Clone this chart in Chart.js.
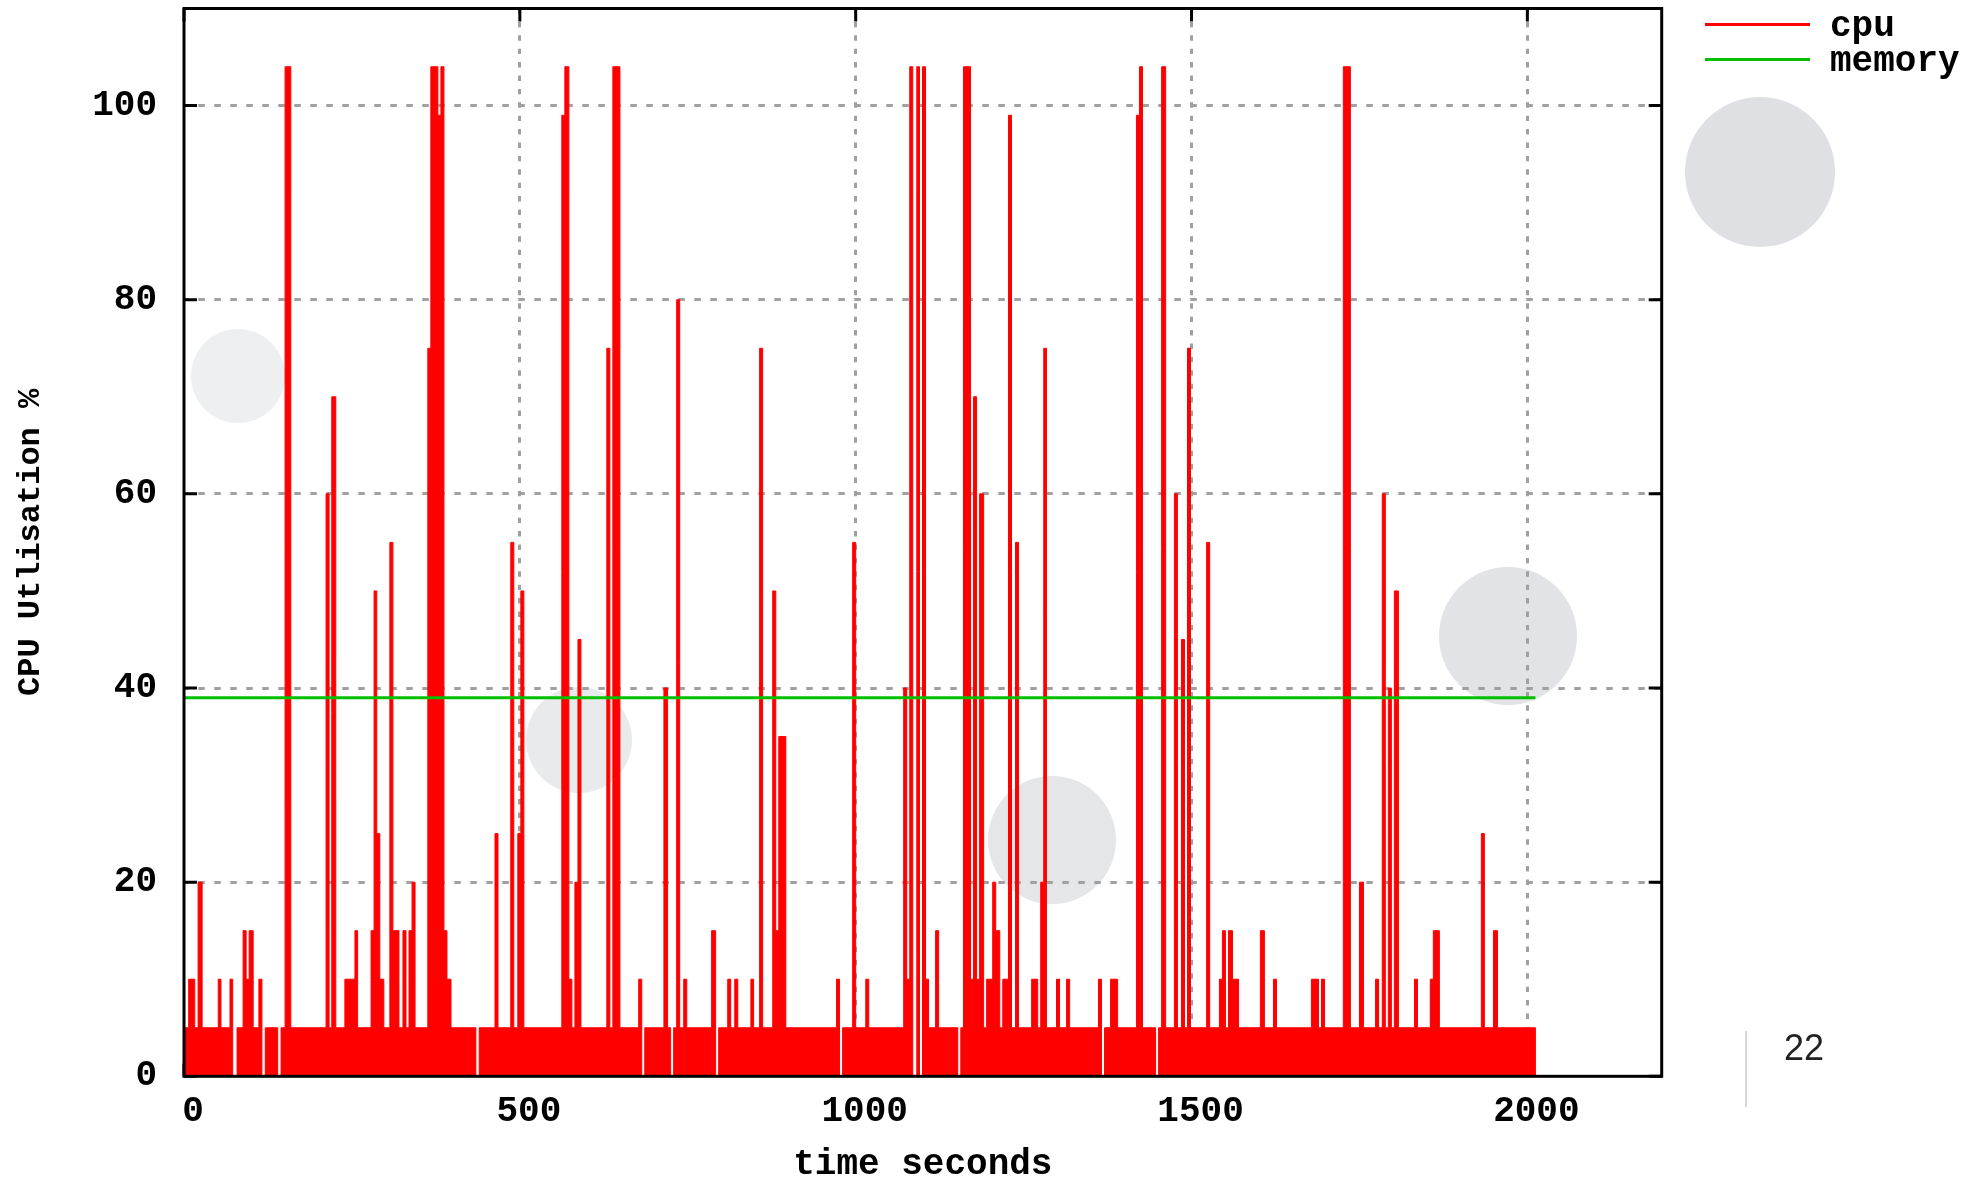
<!DOCTYPE html>
<html>
<head>
<meta charset="utf-8">
<title>CPU Utlisation</title>
<script src="https://cdn.jsdelivr.net/npm/chart.js@4.4.1/dist/chart.umd.min.js"></script>
<style>
  html, body { margin: 0; padding: 0; background: #fff; }
  #wrap { position: relative; width: 1978px; height: 1178px; overflow: hidden; }
  .blob { position: absolute; border-radius: 50%; filter: blur(0.6px); }
  #chart { position: absolute; left: 0; top: 0; z-index: 1; }
  #pageNo { position: absolute; left: 1784px; top: 1030px; font: 36px 'Liberation Sans', Arial, sans-serif; line-height: 36px; color: #222; z-index: 2; }
  #pageRule { position: absolute; left: 1745px; top: 1031px; width: 2px; height: 76px; background: #d3d7dc; z-index: 2; }
</style>
</head>
<body>
<div id="wrap">
  <div class="blob" style="left:191px;top:329px;width:94px;height:94px;background:#eeeff0"></div>
  <div class="blob" style="left:526px;top:687px;width:106px;height:106px;background:#e9eaec"></div>
  <div class="blob" style="left:988px;top:776px;width:128px;height:128px;background:#e5e6e8"></div>
  <div class="blob" style="left:1439px;top:567px;width:138px;height:138px;background:#e2e3e6"></div>
  <div class="blob" style="left:1685px;top:97px;width:150px;height:150px;background:#dfe0e3"></div>
  <canvas id="chart" width="1978" height="1178"></canvas>
  <div id="pageRule"></div>
  <div id="pageNo">22</div>
</div>
<script>
// tick values
const xTicks = [0, 500, 1000, 1500, 2000];
const yTicks = [0, 20, 40, 60, 80, 100];

// cpu: time (s) where each step starts, and the value it holds until the next one
const cpuTime = [
  0, 7, 16, 21, 27, 51, 55, 68.5, 72.5, 79,
  88, 92.5, 97, 103, 111.5, 116, 121, 139.5, 144.5, 150.5,
  159, 211.5, 216, 220, 226, 239.5, 254.5, 258.5, 278.5, 283,
  287, 291.5, 297.5, 306.5, 311, 320, 326, 330.5, 335, 339.5,
  344, 363, 367.5, 378, 382.5, 387, 391.5, 397.5, 434.5, 439.5,
  463, 467.5, 486.5, 491, 497, 501.5, 506, 562.5, 567, 573,
  577.5, 582, 586.5, 591, 629.5, 634, 638.5, 649, 677, 681.5,
  686, 714.5, 720, 724.5, 729, 733.5, 738, 744, 748.5, 785.5,
  791.5, 796, 809.5, 814, 820, 824.5, 844, 848, 857, 861.5,
  876.5, 881, 885.5, 896, 971.5, 976, 980.5, 995.5, 1000, 1015,
  1019.5, 1071.5, 1076, 1080.5, 1085, 1091, 1095, 1099.5, 1104, 1108.5,
  1119, 1123.5, 1152, 1156.5, 1160.5, 1171, 1175.5, 1180, 1184.5, 1190.5,
  1195, 1204, 1208.5, 1214.5, 1219, 1227.5, 1232, 1238, 1242.5, 1262,
  1271, 1275.5, 1280, 1284, 1299, 1303.5, 1314, 1318.5, 1361.5, 1366,
  1370.5, 1379.5, 1390, 1418, 1422.5, 1427, 1446.5, 1451, 1455.5, 1461.5,
  1474.5, 1479, 1485, 1489.5, 1494, 1498.5, 1522.5, 1527, 1541.5, 1546,
  1550.5, 1555, 1561, 1570, 1602.5, 1608.5, 1622, 1626.5, 1678.5, 1689,
  1693.5, 1698, 1726, 1736.5, 1750, 1756, 1774, 1778.5, 1784, 1788.5,
  1793, 1797.5, 1802, 1808, 1832, 1836.5, 1855.5, 1860, 1869, 1931.5,
  1936, 1949.5, 1955.5, 2012
];
const cpuValue = [
  5, 10, 5, 20, 5, 10, 5, 10, 0, 5,
  15, 10, 15, 5, 10, 0, 5, 0, 5, 104,
  5, 60, 5, 70, 5, 10, 15, 5, 15, 50,
  25, 10, 5, 55, 15, 5, 15, 5, 15, 20,
  5, 75, 104, 99, 104, 15, 10, 5, 0, 5,
  25, 5, 55, 5, 25, 50, 5, 99, 104, 10,
  5, 20, 45, 5, 75, 5, 104, 5, 10, 0,
  5, 40, 5, 0, 5, 80, 5, 10, 5, 15,
  0, 5, 10, 5, 10, 5, 10, 5, 75, 5,
  50, 15, 35, 5, 10, 0, 5, 55, 5, 10,
  5, 40, 10, 104, 0, 104, 0, 104, 10, 5,
  15, 5, 0, 5, 104, 10, 70, 10, 60, 5,
  10, 20, 15, 5, 10, 99, 5, 55, 5, 10,
  5, 20, 75, 5, 10, 5, 10, 5, 10, 0,
  5, 10, 5, 99, 104, 5, 0, 5, 104, 5,
  60, 5, 45, 5, 75, 5, 55, 5, 10, 15,
  5, 15, 10, 5, 15, 5, 10, 5, 10, 5,
  10, 5, 104, 5, 20, 5, 10, 5, 60, 5,
  40, 5, 50, 5, 10, 5, 10, 15, 5, 25,
  5, 15, 5, 0
];

// memory stays flat over the whole run
const memTime = [0, 2012];
const memValue = [39, 39];

const seriesNames = ['cpu', 'memory'];

const FONT = 'Liberation Mono, Courier New, monospace';
const TIC = 13;

function toPoints(xs, ys) {
    return xs.map((x, i) => ({ x: x, y: ys[i] }));
}

// gnuplot-like frame: tics inside the box on all four sides, border on top, legend at right
const gnuplotFrame = {
    id: 'gnuplotFrame',
    beforeDatasetsDraw(chart) {
        const { ctx, chartArea: a, scales } = chart;
        ctx.save();
        ctx.strokeStyle = '#000';
        ctx.lineWidth = 3;
        ctx.beginPath();
        scales.x.ticks.forEach(t => {
            const px = scales.x.getPixelForValue(t.value);
            ctx.moveTo(px, a.bottom); ctx.lineTo(px, a.bottom - TIC);
            ctx.moveTo(px, a.top); ctx.lineTo(px, a.top + TIC);
        });
        scales.y.ticks.forEach(t => {
            const py = scales.y.getPixelForValue(t.value);
            ctx.moveTo(a.left, py); ctx.lineTo(a.left + TIC, py);
            ctx.moveTo(a.right, py); ctx.lineTo(a.right - TIC, py);
        });
        ctx.stroke();
        ctx.restore();
    },
    afterDatasetsDraw(chart) {
        const { ctx, chartArea: a } = chart;
        ctx.save();
        ctx.strokeStyle = '#000';
        ctx.lineWidth = 3;
        ctx.strokeRect(a.left, a.top, a.right - a.left, a.bottom - a.top);
        ctx.restore();
    },
    afterDraw(chart) {
        const ctx = chart.ctx;
        ctx.save();
        ctx.font = 'bold 36px ' + FONT;
        ctx.textBaseline = 'middle';
        ctx.textAlign = 'left';
        chart.data.datasets.forEach((ds, i) => {
            const y = 24.5 + i * 35;
            ctx.strokeStyle = ds.borderColor;
            ctx.lineWidth = 3;
            ctx.beginPath();
            ctx.moveTo(1705, y);
            ctx.lineTo(1810, y);
            ctx.stroke();
            ctx.fillStyle = '#000';
            ctx.fillText(ds.label, 1830, y + 2);
        });
        ctx.restore();
    }
};

const tickFont = { family: FONT, size: 36, weight: 'bold' };

new Chart(document.getElementById('chart'), {
    type: 'line',
    data: {
        datasets: [{
            label: seriesNames[0],
            data: toPoints(cpuTime, cpuValue),
            borderColor: '#ff0000',
            backgroundColor: '#ff0000',
            borderWidth: 1,
            fill: 'origin',
            stepped: 'before',
            pointRadius: 0,
            order: 2
        }, {
            label: seriesNames[1],
            data: toPoints(memTime, memValue),
            borderColor: '#00c000',
            borderWidth: 3,
            fill: false,
            pointRadius: 0,
            order: 1
        }]
    },
    options: {
        responsive: false,
        devicePixelRatio: 1,
        animation: false,
        events: [],
        layout: { padding: { left: 0, top: 8.5, right: 316.3, bottom: 0 } },
        plugins: { legend: { display: false }, tooltip: { enabled: false } },
        scales: {
            x: {
                type: 'linear',
                min: 0,
                max: 2200,
                afterBuildTicks: s => { s.ticks = xTicks.map(v => ({ value: v })); },
                afterFit: s => { s.height = 101.7; s.paddingLeft = 0; s.paddingRight = 0; },
                ticks: {
                    font: tickFont,
                    color: '#000',
                    padding: 14,
                    labelOffset: 9,
                    maxRotation: 0,
                    callback: v => String(v)
                },
                grid: {
                    color: c => (c.tick && c.tick.value === 0) ? 'rgba(0,0,0,0)' : '#a0a0a0',
                    lineWidth: 3,
                    drawTicks: false
                },
                border: { display: false, dash: [5.4, 8] },
                title: {
                    display: true,
                    text: 'time seconds',
                    color: '#000',
                    font: { family: FONT, size: 36, weight: 'bold', lineHeight: 0.8 },
                    padding: { top: 0, bottom: -1.5 }
                }
            },
            y: {
                type: 'linear',
                min: 0,
                max: 110,
                afterBuildTicks: s => { s.ticks = yTicks.map(v => ({ value: v })); },
                afterFit: s => { s.width = 184; s.paddingTop = 0; s.paddingBottom = 0; },
                ticks: {
                    font: tickFont,
                    color: '#000',
                    padding: 27,
                    callback: v => String(v)
                },
                grid: {
                    color: c => (c.tick && c.tick.value === 0) ? 'rgba(0,0,0,0)' : '#a0a0a0',
                    lineWidth: 3,
                    drawTicks: false
                },
                border: { display: false, dash: [6.5, 9.5], dashOffset: 1.7 },
                title: {
                    display: true,
                    text: 'CPU Utlisation %',
                    color: '#000',
                    font: { family: FONT, size: 32, weight: 'bold', lineHeight: 0.8 },
                    padding: { top: 18, bottom: 0 }
                }
            }
        }
    },
    plugins: [gnuplotFrame]
});
</script>
</body>
</html>
